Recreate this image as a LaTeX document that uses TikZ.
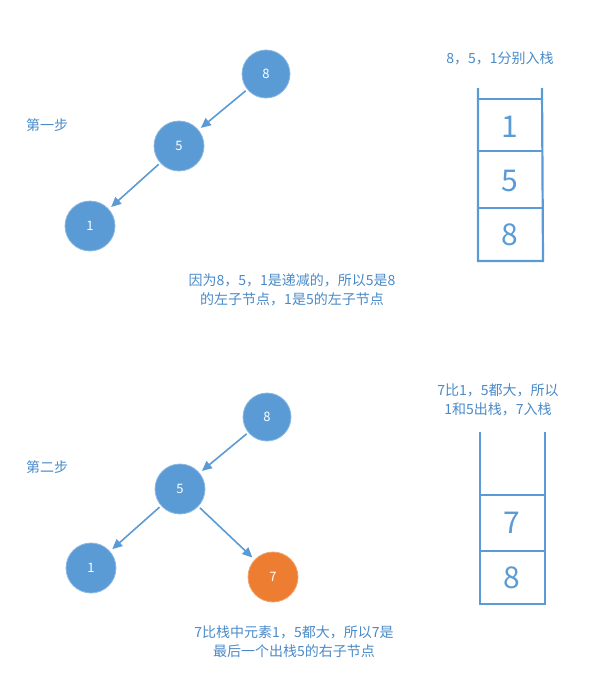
\documentclass[tikz,border=0pt]{standalone}
\usepackage{fontspec}
\setmainfont{Noto Sans CJK SC}
\usetikzlibrary{arrows.meta}
\definecolor{nb}{HTML}{5B9BD5}
\definecolor{no}{HTML}{ED7D31}
\definecolor{tx}{HTML}{4A8AC8}
\begin{document}
\begin{tikzpicture}[x=1pt,y=-1pt,
  nd/.style={circle,fill=nb,draw=nb!70!white,line width=0.8pt,minimum size=50pt,inner sep=0pt,text=white,font=\fontsize{13}{13}\selectfont},
  sm/.style={nd,minimum size=48pt},
  ar/.style={draw=nb,line width=1.6pt,-{Triangle[length=10pt,width=9pt]},shorten <=2pt,shorten >=3pt},
  lb/.style={text=tx,font=\fontsize{14}{19}\selectfont,align=center},
  stk/.style={draw=nb,line width=2.2pt},
  dg/.style={text=nb,font=\fontsize{30}{30}\selectfont}]
\useasboundingbox (0,0) rectangle (604,677);
% step 1
\node[sm] (a8) at (266,74) {8};
\node[nd] (a5) at (179,146) {5};
\node[nd] (a1) at (90,226) {1};
\draw[ar] (a8) -- (a5);
\draw[ar] (a5) -- (a1);
\node[lb] (s1) at (47,125) {第一步};
\node[lb] (t1) at (500,58) {8，5，1分别入栈};
\node[lb] (c1) at (292,290) {因为8，5，1是递减的，所以5是8\\的左子节点，1是5的左子节点};
\draw[stk] (478,88) -- (478,261) -- (543,261) -- (542,88);
\draw[stk] (478,99) -- (542,99);
\draw[stk] (478,151) -- (542,151);
\draw[stk] (478,208) -- (543,208);
\node[dg] (k1) at (510,127) {1};
\node[dg] (k5) at (510,181) {5};
\node[dg] (k8) at (510,235) {8};
% step 2
\node[sm] (b8) at (267,417) {8};
\node[nd] (b5) at (180,489) {5};
\node[nd] (b1) at (91,568) {1};
\node[nd,fill=no,draw=no!70!white] (b7) at (273,577) {7};
\draw[ar] (b8) -- (b5);
\draw[ar] (b5) -- (b1);
\draw[ar] (b5) -- (b7);
\node[lb] (s2) at (47,467) {第二步};
\node[lb] (t2) at (498,400) {7比1，5都大，所以\\1和5出栈，7入栈};
\node[lb] (c2) at (294,642) {7比栈中元素1，5都大，所以7是\\最后一个出栈5的右子节点};
\draw[stk] (480,432) -- (480,604) -- (545,604) -- (545,432);
\draw[stk] (480,495) -- (545,495);
\draw[stk] (480,551) -- (545,551);
\node[dg] (k7) at (512,523) {7};
\node[dg] (k8b) at (512,578) {8};
\end{tikzpicture}
\end{document}
